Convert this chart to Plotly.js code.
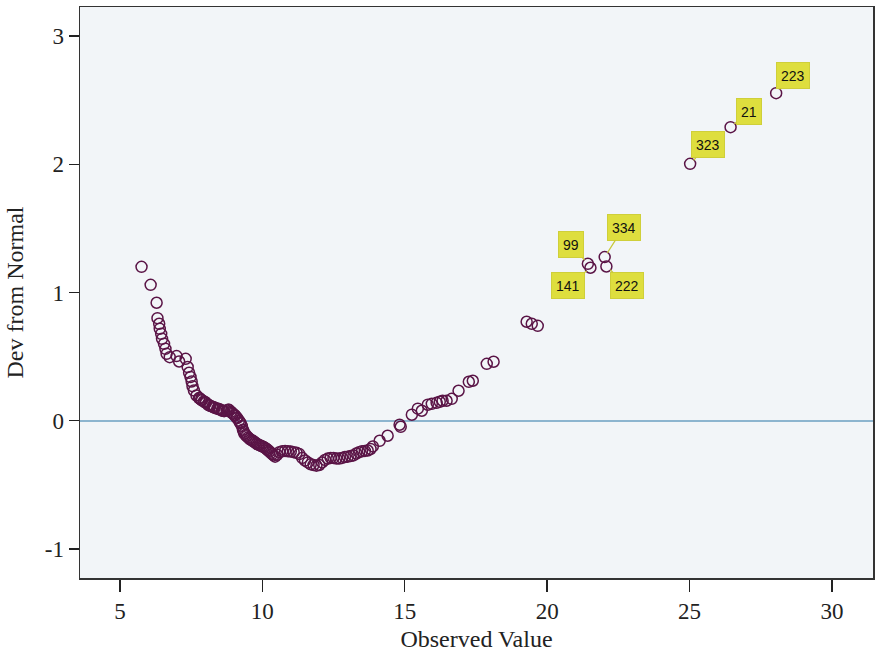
<!DOCTYPE html>
<html>
<head>
<meta charset="utf-8">
<script src="https://cdn.plot.ly/plotly-3.0.1.min.js"></script>
<style>html,body{margin:0;padding:0;background:#fff;}#chart{width:877px;height:652px;}</style>
</head>
<body>
<div id="chart"></div>
<script>
const observedValue = [
  5.76, 6.08, 6.29, 6.32, 6.38, 6.40, 6.45, 6.48, 6.55, 6.60, 6.64, 6.75, 6.99, 7.08, 7.31,
  7.38, 7.43, 7.48, 7.52, 7.55, 7.60, 7.69, 7.78,
  7.80, 7.85, 7.88, 7.95, 8.00, 8.02, 8.10, 8.14, 8.18, 8.25, 8.30, 8.33, 8.42, 8.46, 8.50, 8.58, 8.62, 8.66,
  8.75, 8.80, 8.83, 8.90, 8.93,
  8.97, 9.02, 9.05, 9.10, 9.12, 9.18, 9.22, 9.24, 9.28, 9.32, 9.35, 9.37, 9.42, 9.45, 9.50, 9.55, 9.60,
  9.65, 9.70, 9.75, 9.80, 9.85, 9.90, 9.95, 10.00, 10.05, 10.10,
  10.15, 10.20, 10.25, 10.30, 10.35, 10.40, 10.45, 10.52, 10.60, 10.70, 10.80, 10.90, 11.00, 11.10, 11.20, 11.30,
  11.40, 11.50, 11.60, 11.70, 11.80, 11.90, 12.00, 12.10, 12.20, 12.30, 12.40, 12.50, 12.60,
  12.70, 12.80, 12.90, 13.00, 13.10, 13.20, 13.30, 13.40, 13.50, 13.60, 13.70, 13.80, 13.88,
  14.12, 14.40, 14.82, 14.86, 15.25, 15.46, 15.60, 15.81, 15.95, 16.12, 16.23, 16.33, 16.47,
  16.65, 16.89, 17.25, 17.39, 17.88, 18.12, 19.28, 19.46, 19.67,
  21.43, 21.52, 22.02, 22.08, 25.02, 26.44, 28.04
];
const devFromNormal = [
  1.20, 1.06, 0.92, 0.80, 0.756, 0.717, 0.678, 0.639, 0.60, 0.561, 0.522, 0.496, 0.504, 0.462, 0.483,
  0.419, 0.374, 0.341, 0.306, 0.270, 0.236, 0.197, 0.177,
  0.175, 0.165, 0.16, 0.15, 0.145, 0.14, 0.125, 0.12, 0.115, 0.11, 0.105, 0.10, 0.095, 0.092, 0.09, 0.08, 0.078, 0.075,
  0.08, 0.085, 0.085, 0.07, 0.062,
  0.055, 0.045, 0.04, 0.025, 0.02, 0.0, -0.012, -0.02, -0.04, -0.07, -0.085, -0.10, -0.11, -0.12, -0.13, -0.14, -0.148,
  -0.155, -0.162, -0.17, -0.178, -0.185, -0.19, -0.195, -0.2, -0.205, -0.212,
  -0.22, -0.23, -0.24, -0.25, -0.26, -0.27, -0.28, -0.265, -0.245, -0.238, -0.235, -0.238, -0.24, -0.245, -0.25, -0.26,
  -0.29, -0.31, -0.325, -0.34, -0.345, -0.35, -0.345, -0.325, -0.305, -0.295, -0.29, -0.29, -0.295,
  -0.295, -0.29, -0.283, -0.28, -0.275, -0.27, -0.255, -0.245, -0.238, -0.235, -0.232, -0.22, -0.20,
  -0.156, -0.117, -0.031, -0.047, 0.047, 0.094, 0.078, 0.125, 0.132, 0.140, 0.148, 0.156, 0.156,
  0.171, 0.234, 0.304, 0.312, 0.444, 0.460, 0.772, 0.756, 0.740,
  1.224, 1.193, 1.276, 1.203, 2.003, 2.289, 2.554
];
// Labelled outliers
const labelText = ["99", "141", "334", "222", "323", "21", "223"];
const labelX = [21.43, 21.52, 22.02, 22.08, 25.02, 26.44, 28.04];
const labelY = [1.224, 1.193, 1.276, 1.203, 2.003, 2.289, 2.554];
const labelOffX = [-17, -22, 19, 21, 18, 18, 17];
const labelOffY = [-19, 18, -30, 19, -19, -16, -18];

const xTicks = [5, 10, 15, 20, 25, 30];
const yTicks = [-1, 0, 1, 2, 3];

const serif = 'Liberation Serif, DejaVu Serif, serif';

const annotations = labelText.map((t, i) => ({
  x: labelX[i], y: labelY[i], xref: 'x', yref: 'y',
  text: t, showarrow: true, arrowhead: 0, arrowwidth: 1.2, arrowcolor: '#c8c83a',
  ax: labelOffX[i], ay: labelOffY[i], standoff: 5,
  bgcolor: '#dede3e', bordercolor: '#cfcf3a', borderwidth: 1, borderpad: 4, height: 17,
  font: {family: 'Liberation Sans, Arial, sans-serif', size: 14, color: '#111'}
}));

const trace = {
  x: observedValue, y: devFromNormal, type: 'scatter', mode: 'markers',
  marker: {symbol: 'circle-open', size: 11, color: '#5a1446', line: {width: 1.5, color: '#5a1446'}},
  hoverinfo: 'x+y'
};

const layout = {
  width: 877, height: 652,
  margin: {l: 80, r: 4, t: 7, b: 74},
  paper_bgcolor: '#ffffff', plot_bgcolor: '#f2f5f8',
  showlegend: false,
  xaxis: {
    range: [3.6, 31.44], tickvals: xTicks, ticktext: xTicks.map(String),
    ticks: 'outside', ticklen: 12, tickwidth: 1.3, tickcolor: '#222',
    showgrid: false, zeroline: false, showline: true, linecolor: '#333', linewidth: 1.5, mirror: true,
    tickfont: {family: serif, size: 23, color: '#222'},
    title: {text: 'Observed Value', font: {family: serif, size: 24, color: '#222'}, standoff: 8}
  },
  yaxis: {
    range: [-1.226, 3.226], tickvals: yTicks, ticktext: yTicks.map(String),
    ticks: 'outside', ticklen: 10, tickwidth: 1.3, tickcolor: '#222',
    showgrid: false, zeroline: true, zerolinecolor: '#8db5cf', zerolinewidth: 2,
    showline: true, linecolor: '#333', linewidth: 1.5, mirror: true,
    tickfont: {family: serif, size: 23, color: '#222'},
    title: {text: 'Dev from Normal', font: {family: serif, size: 24, color: '#222'}, standoff: 14}
  },
  annotations: annotations
};

Plotly.newPlot('chart', [trace], layout, {displayModeBar: false, staticPlot: true});
</script>
</body>
</html>
